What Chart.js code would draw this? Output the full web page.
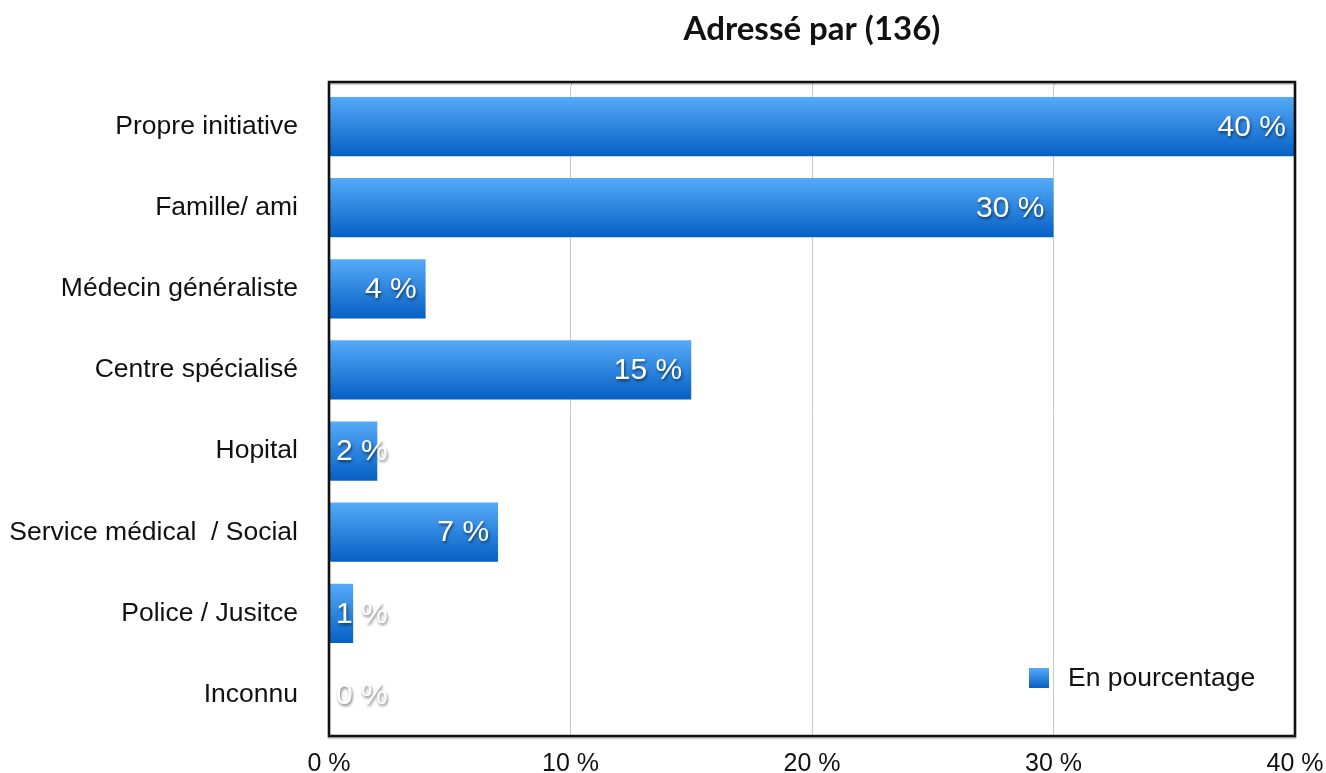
<!DOCTYPE html>
<html>
<head>
<meta charset="utf-8">
<script src="https://cdn.jsdelivr.net/npm/chart.js@4/dist/chart.umd.min.js"></script>
<style>
  html, body { margin: 0; padding: 0; background: #fff; }
  #wrap { width: 1326px; height: 773px; }
</style>
</head>
<body>
<div id="wrap"><canvas id="chart"></canvas></div>
<script>
const categories = ['Propre initiative', 'Famille/ ami', 'Médecin généraliste', 'Centre spécialisé', 'Hopital', 'Service médical  / Social', 'Police / Jusitce', 'Inconnu']
const percentages = [40, 30, 4, 15, 2, 7, 1, 0]
const xTicks = [0, 10, 20, 30, 40]
const seriesName = 'En pourcentage'
const chartTitle = 'Adressé par (136)'

const BAR_PCT = 0.73
const textFont = '"Liberation Sans", Arial, Helvetica, sans-serif'

//blue vertical gradient, light on top, dark at the bottom
function barGradient(ctx, top, bottom) {
    const g = ctx.createLinearGradient(0, top, 0, bottom)
    g.addColorStop(0, '#55aaf8')
    g.addColorStop(1, '#0660c4')
    return g
}

//black frame round the plot area (the top edge sits a bit above the first bar slot)
const framePlugin = {
    id: 'frame',
    afterDatasetsDraw(chart) {
        const { ctx, chartArea: a } = chart
        ctx.save()
        //grid lines reach up to the frame
        ctx.strokeStyle = '#c8c8c8'
        ctx.lineWidth = 1
        const xs = chart.scales.x
        xTicks.forEach(v => {
            const px = Math.round(xs.getPixelForValue(v)) + 0.5
            ctx.beginPath()
            ctx.moveTo(px, a.top - 4)
            ctx.lineTo(px, a.top)
            ctx.stroke()
        })
        ctx.strokeStyle = '#111'
        ctx.lineWidth = 2.5
        ctx.shadowColor = 'rgba(0,0,0,0.25)'
        ctx.shadowOffsetY = 1.5
        ctx.shadowBlur = 1
        ctx.strokeRect(a.left, a.top - 4, a.right - a.left, a.bottom - a.top + 5)
        ctx.restore()
    }
}

//value labels on the bars + legend in the bottom-right corner
const labelPlugin = {
    id: 'barLabels',
    afterDraw(chart) {
        const { ctx, chartArea: a } = chart
        const meta = chart.getDatasetMeta(0)
        ctx.save()
        ctx.font = '30px ' + textFont
        ctx.textBaseline = 'middle'
        ctx.fillStyle = '#fff'
        ctx.shadowColor = 'rgba(0,0,0,0.55)'
        ctx.shadowOffsetX = 1
        ctx.shadowOffsetY = 2
        ctx.shadowBlur = 3
        meta.data.forEach((bar, i) => {
            const txt = percentages[i] + ' %'
            const w = ctx.measureText(txt).width
            let x = bar.x - 9 - w
            if (x < a.left + 7) x = a.left + 7
            ctx.fillText(txt, x, bar.y + 1)
        })
        ctx.restore()

        //legend
        ctx.save()
        const sx = a.right - 266, sy = a.bottom - 67
        ctx.fillStyle = barGradient(ctx, sy, sy + 20)
        ctx.fillRect(sx, sy, 20, 20)
        ctx.font = '26.5px ' + textFont
        ctx.fillStyle = '#111'
        ctx.textBaseline = 'middle'
        ctx.fillText(seriesName, sx + 39, sy + 11)
        ctx.restore()
    }
}

new Chart(document.getElementById('chart'), {
    type: 'bar',
    data: {
        labels: categories,
        datasets: [{
            label: seriesName,
            data: percentages,
            barPercentage: BAR_PCT,
            categoryPercentage: 1,
            backgroundColor: (c) => {
                const chart = c.chart
                const y = chart.scales.y
                if (!y || c.dataIndex === undefined) return '#2a85e0'
                const yc = y.getPixelForValue(c.dataIndex)
                const half = (y.height / categories.length) * BAR_PCT / 2
                if (!isFinite(yc) || !isFinite(half)) return '#2a85e0'
                return barGradient(chart.ctx, yc - half, yc + half)
            }
        }]
    },
    options: {
        indexAxis: 'y',
        responsive: true,
        maintainAspectRatio: false,
        animation: false,
        layout: { padding: { left: 0, right: 31, top: 0, bottom: 0 } },
        plugins: {
            legend: { display: false },
            tooltip: { enabled: false },
            title: {
                display: true,
                text: chartTitle,
                fullSize: false,
                color: '#111',
                font: { family: 'Lato, "Noto Sans", sans-serif', size: 33, weight: 'bold' },
                padding: { top: 10, bottom: 36.4 }
            }
        },
        scales: {
            x: {
                min: 0,
                max: 40,
                afterBuildTicks: (s) => { s.ticks = xTicks.map(v => ({ value: v })) },
                afterFit: (s) => { s.height = 38; s.paddingLeft = 0; s.paddingRight = 0 },
                grid: { color: '#c8c8c8', lineWidth: 1, drawTicks: false },
                border: { display: false },
                ticks: {
                    color: '#111',
                    padding: 14,
                    font: { family: textFont, size: 25 },
                    callback: (v) => v + ' %'
                }
            },
            y: {
                afterFit: (s) => { s.width = 329; s.paddingTop = 0; s.paddingBottom = 0 },
                grid: { display: false, drawTicks: false },
                border: { display: false },
                ticks: {
                    color: '#111',
                    padding: 31,
                    font: { family: textFont, size: 26.5 }
                }
            }
        }
    },
    plugins: [framePlugin, labelPlugin]
})
</script>
</body>
</html>
